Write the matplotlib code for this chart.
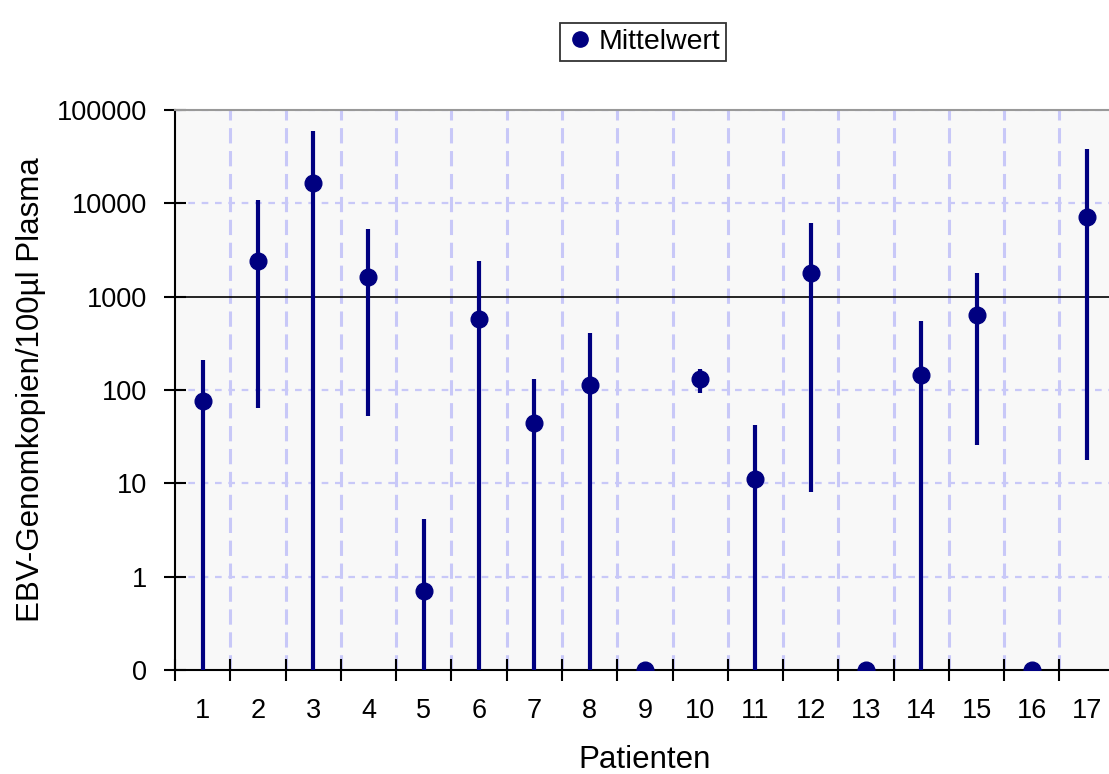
import numpy as np
import matplotlib
matplotlib.use("Agg")
import matplotlib.pyplot as plt
from matplotlib.lines import Line2D

plt.rcParams['font.family'] = ['Liberation Sans', 'DejaVu Sans']

# Data (0 values are drawn at the "0" floor of the log axis)
patients = list(range(1, 18))
mean_values = [76, 2410, 16500, 1625, 0.70, 577, 44, 113, 0, 131, 11.1, 1794, 0, 145, 637, 0, 7140]
upper_values = [210, 10870, 59600, 5310, 4.15, 2410, 131, 408, 0, 168, 42, 6150, 0, 548, 1790, 0, 38200]
lower_values = [0, 64, 0, 53, 0, 0, 0, 0, 0, 93, 0, 8.1, 0, 0, 25.8, 0, 17.8]
y_ticks = [0.1, 1, 10, 100, 1000, 10000, 100000]
y_tick_labels = ["0", "1", "10", "100", "1000", "10000", "100000"]

FLOOR = 0.1
NAVY = "#000080"
GRID = "#c8c8f8"


def main():
    fig = plt.figure(figsize=(11.09, 7.74), dpi=100)
    ax = fig.add_axes([0.1578, 0.1344, 0.8474, 0.7235])
    ax.set_facecolor("#f8f8f8")

    x = np.array(patients)
    mean = np.maximum(np.array(mean_values, dtype=float), FLOOR)
    upper = np.maximum(np.array(upper_values, dtype=float), FLOOR)
    lower = np.maximum(np.array(lower_values, dtype=float), FLOOR)

    ax.set_yscale("log")
    ax.set_ylim(FLOOR, 100000)
    ax.set_xlim(0.5, 17.5)

    # grid
    for yv in y_ticks[1:]:
        if yv == 1000:
            continue
        ax.axhline(yv, color=GRID, lw=1.6, dashes=(3, 3), zorder=1)
    for xv in np.arange(1.5, 17.5, 1.0):
        ax.axvline(xv, color=GRID, lw=2.2, dashes=(5, 2.5), zorder=1)
    ax.axhline(1000, color="black", lw=1.2, zorder=2)

    # error ranges + means
    ax.vlines(x, lower, upper, color=NAVY, lw=3, zorder=3)
    ax.plot(x, mean, "o", color=NAVY, ms=12, zorder=4)

    ax.set_yticks(y_ticks)
    ax.set_yticklabels(y_tick_labels)
    ax.yaxis.set_minor_locator(matplotlib.ticker.NullLocator())
    ax.tick_params(axis="y", direction="inout", length=16, width=1.5, labelsize=19.5, pad=12)

    ax.set_xticks(np.arange(0.5, 17.5, 1.0))
    ax.set_xticklabels([])
    ax.set_xticks(x, minor=True)
    ax.set_xticklabels([str(p) for p in patients], minor=True)
    ax.tick_params(axis="x", which="major", direction="inout", length=16, width=1.5)
    ax.tick_params(axis="x", which="minor", length=0, labelsize=19.5, pad=20)

    for side in ["left", "bottom"]:
        ax.spines[side].set_linewidth(1.5)
        ax.spines[side].set_color("black")
    ax.spines["top"].set_color("#999999")
    ax.spines["top"].set_linewidth(1.5)
    ax.spines["right"].set_visible(False)

    ax.set_ylabel("EBV-Genomkopien/100µl Plasma", fontsize=22.5, labelpad=8)
    ax.set_xlabel("Patienten", fontsize=22.5, labelpad=15)

    handle = Line2D([], [], marker="o", color=NAVY, ls="none", ms=11)
    leg = fig.legend([handle], ["Mittelwert"], loc="center", bbox_to_anchor=(0.5798, 0.9457),
                     fontsize=20.5, frameon=True, fancybox=False, edgecolor="black",
                     handletextpad=0.15, borderpad=0.2, handlelength=1.0, borderaxespad=0)
    leg.get_frame().set_linewidth(1.3)

    fig.savefig("out.png", dpi=100)


if __name__ == "__main__":
    main()
